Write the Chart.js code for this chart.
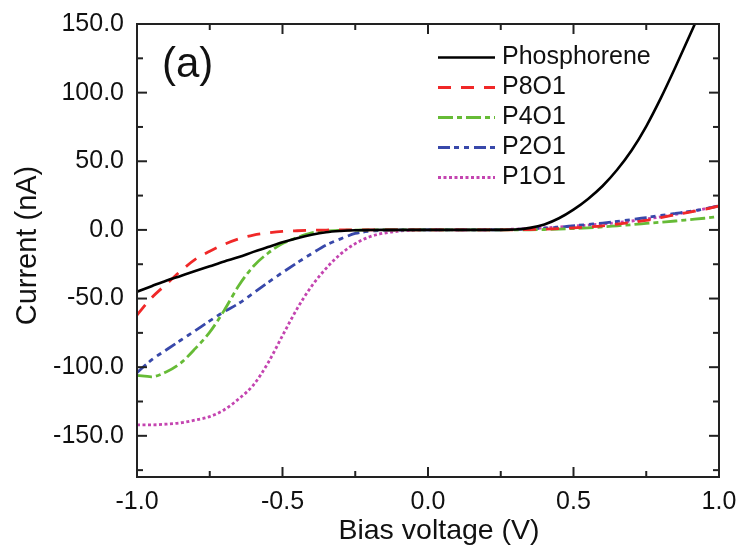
<!DOCTYPE html>
<html>
<head>
<meta charset="utf-8">
<script src="https://cdn.jsdelivr.net/npm/chart.js@4.4.1/dist/chart.umd.min.js"></script>
<style>
  html, body { margin: 0; padding: 0; background: #ffffff; }
  #wrap { width: 738px; height: 550px; }
</style>
</head>
<body>
<div id="wrap"><canvas id="c" width="738" height="550"></canvas></div>
<script>
// ---- data ----
const voltage = [-1.0,-0.95,-0.9,-0.85,-0.8,-0.75,-0.7,-0.65,-0.6,-0.55,-0.5,-0.45,-0.4,-0.35,-0.3,-0.25,-0.2,-0.15,-0.1,-0.05,0.0,0.05,0.1,0.15,0.2,0.25,0.3,0.35,0.4,0.45,0.5,0.55,0.6,0.65,0.7,0.75,0.8,0.85,0.9,0.95,1.0];
const phosphorene = [-45,-41,-37,-33.5,-30,-26.5,-23,-19.8,-16,-12.5,-9,-6,-3.5,-1.7,-0.8,-0.3,-0.1,0,0,0,0,0,0,0,0,0,0.3,1.5,4,8.5,14.8,22.6,32,43.8,58,75.5,96,118.5,142,165.5,189];
const p8o1 = [-62,-49.5,-39.7,-30,-21.5,-15.5,-10.5,-6.5,-3.8,-2.2,-1.1,-0.6,-0.3,-0.1,0,0,0,0,0,0,0,0,0,0,0,0,0.1,0.3,0.6,1,1.5,2.2,3,4.2,5.5,7,9,11,13,15,17.5];
const p4o1 = [-106,-107,-103.5,-97,-86.5,-74.5,-58.5,-40.5,-26.5,-17,-10,-5.6,-2.2,-0.8,-0.3,-0.1,0,0,0,0,0,0,0,0,0,0,0,0.1,0.3,0.6,1,1.5,2.2,3,3.8,4.7,5.6,6.5,7.5,8.5,9.7];
const p2o1 = [-104,-94.7,-87.5,-80.4,-73.4,-66.3,-59.5,-53.5,-46,-38.3,-31,-24,-17.3,-11,-6.5,-2.6,-1,-0.3,-0.1,0,0,0,0,0,0,0.1,0.4,0.8,1.3,2,3,4,5,6.2,7.5,9,10.5,12,13.5,15.3,17.5];
const p1o1 = [-142,-142,-141.5,-140.5,-138.5,-136,-131,-123,-113,-97,-77,-57.5,-41,-28,-17.5,-10,-5,-2.3,-0.9,-0.2,0,0,0,0,0.1,0.3,0.6,1,1.5,2.1,2.8,3.5,4.3,5.3,6.5,8,9.5,11.3,13.2,15.3,17.5];
const seriesNames = ['Phosphorene','P8O1','P4O1','P2O1','P1O1'];
const xTickValues = [-1.0,-0.5,0.0,0.5,1.0];
const xMinorTickValues = [-0.75,-0.25,0.25,0.75];
const yTickValues = [-150,-100,-50,0,50,100,150];
const yMinorTickValues = [-175,-125,-75,-25,25,75,125];
const panelLabel = '(a)';
const xTitle = 'Bias voltage (V)';
const yTitle = 'Current (nA)';

// ---- styles ----
const FONT = '"Liberation Sans", Arial, Helvetica, sans-serif';
const styles = [
  { color: '#000000', dash: [] },
  { color: '#f02828', dash: [13, 10] },
  { color: '#66bb36', dash: [15, 4, 5, 4] },
  { color: '#3848aa', dash: [12, 4, 5, 5, 5, 5] },
  { color: '#c444b0', dash: [3, 2.5] }
];
const allSeries = [phosphorene, p8o1, p4o1, p2o1, p1o1];

// linear scale whose axis title is nudged slightly (as in the original figure)
class NudgedTitleScale extends Chart.LinearScale {
  drawTitle() {
    const ctx = this.ctx;
    ctx.save();
    if (this.axis === 'x') ctx.translate(11, 0); else ctx.translate(0, -5);
    super.drawTitle();
    ctx.restore();
  }
}
NudgedTitleScale.id = 'linearNudged';
NudgedTitleScale.defaults = Chart.LinearScale.defaults;
Chart.register(NudgedTitleScale);

const datasets = allSeries.map((vals, i) => ({
  label: seriesNames[i],
  data: voltage.map((v, k) => ({ x: v, y: vals[k] })),
  borderColor: styles[i].color,
  backgroundColor: styles[i].color,
  borderDash: styles[i].dash,
  borderWidth: i === 0 ? 2.6 : 2.8,
  pointRadius: 0,
  cubicInterpolationMode: 'monotone',
  fill: false,
  clip: 0
}));

const framePlugin = {
  id: 'frame',
  afterDatasetsDraw(chart) {
    const ctx = chart.ctx;
    const a = chart.chartArea;
    const xs = chart.scales.x, ys = chart.scales.y;
    ctx.save();
    ctx.strokeStyle = '#222222';
    ctx.lineWidth = 2;
    ctx.setLineDash([]);
    const tick = (x1, y1, x2, y2) => { ctx.beginPath(); ctx.moveTo(x1, y1); ctx.lineTo(x2, y2); ctx.stroke(); };
    const MAJ = 10, MIN = 6;
    yTickValues.concat(yMinorTickValues).forEach(v => {
      const len = yTickValues.includes(v) ? MAJ : MIN;
      const p = ys.getPixelForValue(v);
      tick(a.left, p, a.left + len, p);
      tick(a.right, p, a.right - len, p);
    });
    xTickValues.concat(xMinorTickValues).forEach(v => {
      const len = xTickValues.includes(v) ? MAJ : MIN;
      const p = xs.getPixelForValue(v);
      tick(p, a.bottom, p, a.bottom - len);
      tick(p, a.top, p, a.top + len);
    });
    ctx.strokeRect(a.left, a.top, a.right - a.left, a.bottom - a.top);

    // panel label
    ctx.fillStyle = '#111111';
    ctx.font = '42px ' + FONT;
    ctx.textAlign = 'left';
    ctx.textBaseline = 'middle';
    ctx.fillText(panelLabel, 162, 65);

    // legend
    ctx.font = '25px ' + FONT;
    chart.data.datasets.forEach((ds, i) => {
      const y = 57.5 + i * 30;
      ctx.strokeStyle = ds.borderColor;
      ctx.lineWidth = ds.borderWidth;
      ctx.setLineDash(ds.borderDash);
      tick(438, y, 495, y);
      ctx.setLineDash([]);
      ctx.fillStyle = '#111111';
      ctx.fillText(ds.label, 502, y);
    });
    ctx.restore();
  }
};

new Chart(document.getElementById('c'), {
  type: 'line',
  data: { datasets },
  options: {
    responsive: false,
    animation: false,
    devicePixelRatio: 1,
    layout: { padding: { left: 0, right: 19, top: 24, bottom: 0 } },
    plugins: { legend: { display: false }, tooltip: { enabled: false } },
    scales: {
      x: {
        type: 'linearNudged',
        position: 'bottom',
        min: -1, max: 1,
        afterBuildTicks: (s) => { s.ticks = xTickValues.map(v => ({ value: v })); },
        afterFit: (s) => { s.height = 73; s.paddingLeft = 0; s.paddingRight = 0; },
        grid: { display: false, drawTicks: false },
        border: { display: false },
        ticks: {
          padding: 10,
          color: '#111111',
          font: { family: FONT, size: 25 },
          maxRotation: 0,
          callback: (v) => Number(v).toFixed(1)
        },
        title: {
          display: true, text: xTitle, color: '#111111',
          font: { family: FONT, size: 28.5 },
          padding: { top: 0, bottom: 1.5 }
        }
      },
      y: {
        type: 'linearNudged',
        position: 'left',
        min: -180, max: 150,
        afterBuildTicks: (s) => { s.ticks = yTickValues.map(v => ({ value: v })); },
        afterFit: (s) => { s.width = 137; s.paddingTop = 0; s.paddingBottom = 0; },
        grid: { display: false, drawTicks: false },
        border: { display: false },
        ticks: {
          padding: 13,
          color: '#111111',
          font: { family: FONT, size: 25 },
          callback: (v) => Number(v).toFixed(1)
        },
        title: {
          display: true, text: yTitle, color: '#111111',
          font: { family: FONT, size: 29 },
          padding: { top: 11, bottom: 0 }
        }
      }
    }
  },
  plugins: [framePlugin]
});
</script>
</body>
</html>
